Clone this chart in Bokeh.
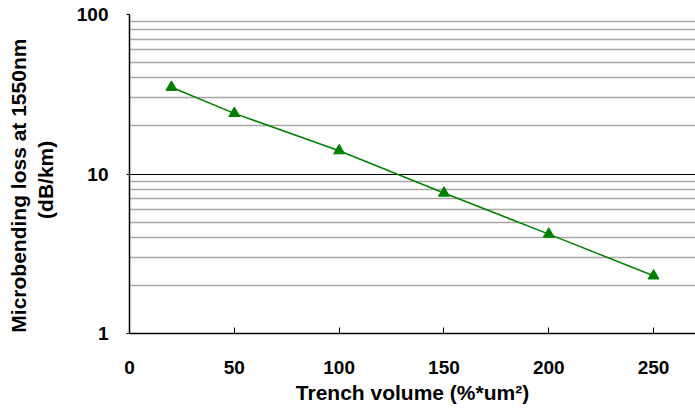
from bokeh.plotting import figure
from bokeh.models import FixedTicker, Range1d, CustomJSTickFormatter
from bokeh.embed import file_html
from bokeh.resources import INLINE

trench_volume = [20, 50, 100, 150, 200, 250]
microbend_loss = [35.0, 24.0, 14.0, 7.6, 4.2, 2.3]
x_ticks = [0, 50, 100, 150, 200, 250]
y_ticks = [1, 10, 100]
y_minor = [2, 3, 4, 5, 6, 7, 8, 9, 20, 30, 40, 50, 60, 70, 80, 90]

FONT = "Liberation Sans"
NB = "\u00a0"

p = figure(width=695, height=415, y_axis_type="log",
           x_range=Range1d(0, 270), y_range=Range1d(1, 100),
           output_backend="svg", toolbar_location=None,
           min_border_left=129, min_border_top=14, min_border_bottom=82, min_border_right=0)
p.outline_line_color = None
p.background_fill_color = "white"

p.line(trench_volume, microbend_loss, line_color="#008000", line_width=1.5)
p.scatter(trench_volume, microbend_loss, marker="triangle", size=11,
          fill_color="#008000", line_color="#008000")

p.xaxis.ticker = FixedTicker(ticks=x_ticks)
p.yaxis.ticker = FixedTicker(ticks=y_ticks, minor_ticks=y_minor)
p.yaxis.formatter = CustomJSTickFormatter(code="return tick.toString();")

for ax in (p.xaxis[0], p.yaxis[0]):
    ax.axis_line_color = "black"
    ax.axis_line_width = 1.5
    ax.major_label_text_font = FONT
    ax.major_label_text_font_style = "bold"
    ax.major_label_text_font_size = "19px"
    ax.major_label_text_color = "black"
    ax.axis_label_text_font = FONT
    ax.axis_label_text_font_style = "bold"
    ax.axis_label_text_font_size = "21px"
    ax.axis_label_text_color = "black"
    ax.minor_tick_line_color = None

p.xaxis.major_tick_in = 6
p.xaxis.major_tick_out = 0
p.xaxis.major_label_standoff = 27
p.xaxis.axis_label = "Trench volume (%*um²)"
p.xaxis.axis_label_standoff = 4

p.yaxis.major_tick_in = 0
p.yaxis.major_tick_out = 3
p.yaxis.major_label_standoff = 17
p.yaxis.axis_label = "Microbending loss at 1550nm" + NB * 4 + "\n(dB/km)" + NB * 2
p.yaxis.axis_label_standoff = 17
p.yaxis.axis_label_text_line_height = 1.15

p.xgrid.grid_line_color = None
p.ygrid.grid_line_color = "black"
p.ygrid.grid_line_width = 1.2
p.ygrid.minor_grid_line_color = "#a6a6a6"
p.ygrid.minor_grid_line_width = 1.5

open("out.html", "w").write(file_html(p, INLINE))
